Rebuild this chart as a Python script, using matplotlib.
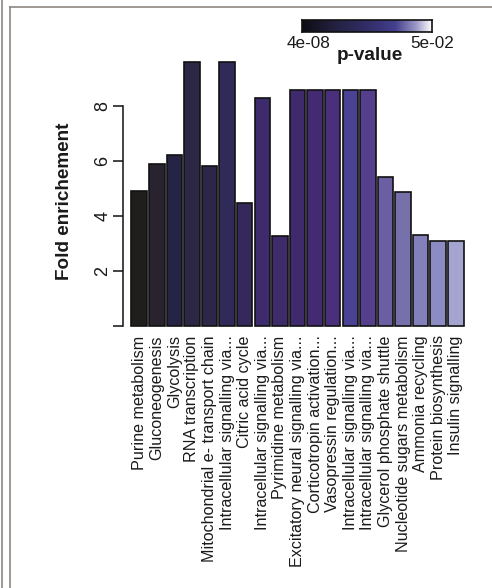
import numpy as np
import matplotlib
matplotlib.use("Agg")
import matplotlib.pyplot as plt
from matplotlib.colors import LinearSegmentedColormap
from matplotlib.lines import Line2D

plt.rcParams['font.family'] = ['Liberation Sans', 'DejaVu Sans']

categories = [
    "Purine metabolism", "Gluconeogenesis", "Glycolysis", "RNA transcription",
    "Mitochondrial e- transport chain", "Intracellular signalling via...",
    "Citric acid cycle", "Intracellular signalling via...", "Pyrimidine metabolism",
    "Excitatory neural signalling via...", "Corticotropin activation...",
    "Vasopressin regulation...", "Intracellular signalling via...",
    "Intracellular signalling via...", "Glycerol phosphate shuttle",
    "Nucleotide sugars metabolism", "Ammonia recycling", "Protein biosynthesis",
    "Insulin signalling",
]
fold_enrichment = [4.9, 5.9, 6.2, 9.6, 5.8, 9.6, 4.45, 8.3, 3.25, 8.6, 8.6,
                   8.58, 8.6, 8.6, 5.42, 4.87, 3.3, 3.08, 3.08]
bar_colors = ["#1f1e1c", "#28232e", "#262444", "#2d2746", "#2e2649", "#2f2a58",
              "#35295c", "#3d2b6d", "#3e2b69", "#3e2a6c", "#432a73", "#4a2f7d",
              "#4a4393", "#553f8c", "#6b5ea3", "#7670ab", "#8380bb", "#8c8bc3",
              "#a3a5d0"]
yticks = [0, 2, 4, 6, 8]
ytick_labels = ["", "2", "4", "6", "8"]
pvalue_range = ["4e-08", "5e-02"]

W, H = 492, 588
fig = plt.figure(figsize=(W / 100, H / 100), dpi=100)
fig.patch.set_facecolor("white")

def px(x0, y0, x1, y1):
    return [x0 / W, 1 - y1 / H, (x1 - x0) / W, (y1 - y0) / H]

# frame lines (screenshot border)
frame_col = "#8c8682"
fig.add_artist(Line2D([1.5 / W, 1.5 / W], [0, 1], color=frame_col, lw=1.2))
fig.add_artist(Line2D([10 / W, 10 / W], [0, 1 - 7 / H], color=frame_col, lw=1.2))
fig.add_artist(Line2D([10 / W, 1], [1 - 7 / H, 1 - 7 / H], color=frame_col, lw=1.2))

# main axes: x from -0.92 to 18.92, y from 0 to 10
ax_left, ax_right = 123, 472
y0_px, unit = 325.6, 27.45
ax_top = y0_px - 10 * unit
ax = fig.add_axes(px(ax_left, ax_top, ax_right, y0_px))
ax.set_facecolor("none")
x = np.arange(len(categories))
ax.bar(x, fold_enrichment, width=0.88, color=bar_colors, edgecolor="#111111",
       linewidth=1.2, clip_on=False)
ax.set_xlim(-0.92, len(categories) - 1 + 0.92)
ax.set_ylim(0, 10)
for s in ["top", "right", "bottom"]:
    ax.spines[s].set_visible(False)
ax.spines["left"].set_bounds(0, 8)
ax.spines["left"].set_linewidth(1.1)
ax.spines["left"].set_color("#111111")
ax.set_yticks(yticks)
ax.set_yticklabels(ytick_labels, rotation=90, va="center", fontsize=13,
                   color="#1a1a1a")
ax.tick_params(axis="y", length=7, width=1.1, pad=1.5, color="#111111")
ax.set_xticks(x)
ax.set_xticklabels(categories, rotation=90, fontsize=11.6, va="top", ha="center",
                   color="#1a1a1a")
ax.tick_params(axis="x", length=0, pad=7)
ax.set_ylabel("Fold enrichement", fontsize=13.6, fontweight="bold", color="#1a1a1a")
ax.yaxis.set_label_coords((73 - ax_left) / (ax_right - ax_left),
                          (y0_px - 201) / (y0_px - ax_top))

# colorbar
cmap = LinearSegmentedColormap.from_list(
    "pv", [(0.0, "#0d0d14"), (0.25, "#23213f"), (0.55, "#35306f"),
           (0.72, "#45408e"), (0.88, "#9c98c6"), (1.0, "#ffffff")])
cax = fig.add_axes(px(302, 20.3, 431.7, 32.3))
cax.imshow(np.linspace(0, 1, 256)[None, :], aspect="auto", cmap=cmap,
           extent=[0, 1, 0, 1])
cax.set_xticks([])
cax.set_yticks([])
for s in cax.spines.values():
    s.set_linewidth(1.2)
    s.set_color("#111111")

fig.text(308.5 / W, 1 - 43.3 / H, pvalue_range[0], fontsize=12.3, ha="center",
         va="center", color="#1a1a1a")
fig.text(432 / W, 1 - 43.3 / H, pvalue_range[1], fontsize=12.3, ha="center",
         va="center", color="#1a1a1a")
fig.text(370 / W, 1 - 55.5 / H, "p-value", fontsize=13.6, fontweight="bold",
         ha="center", va="center", color="#1a1a1a")

fig.savefig("out.png", dpi=100, facecolor="white")
